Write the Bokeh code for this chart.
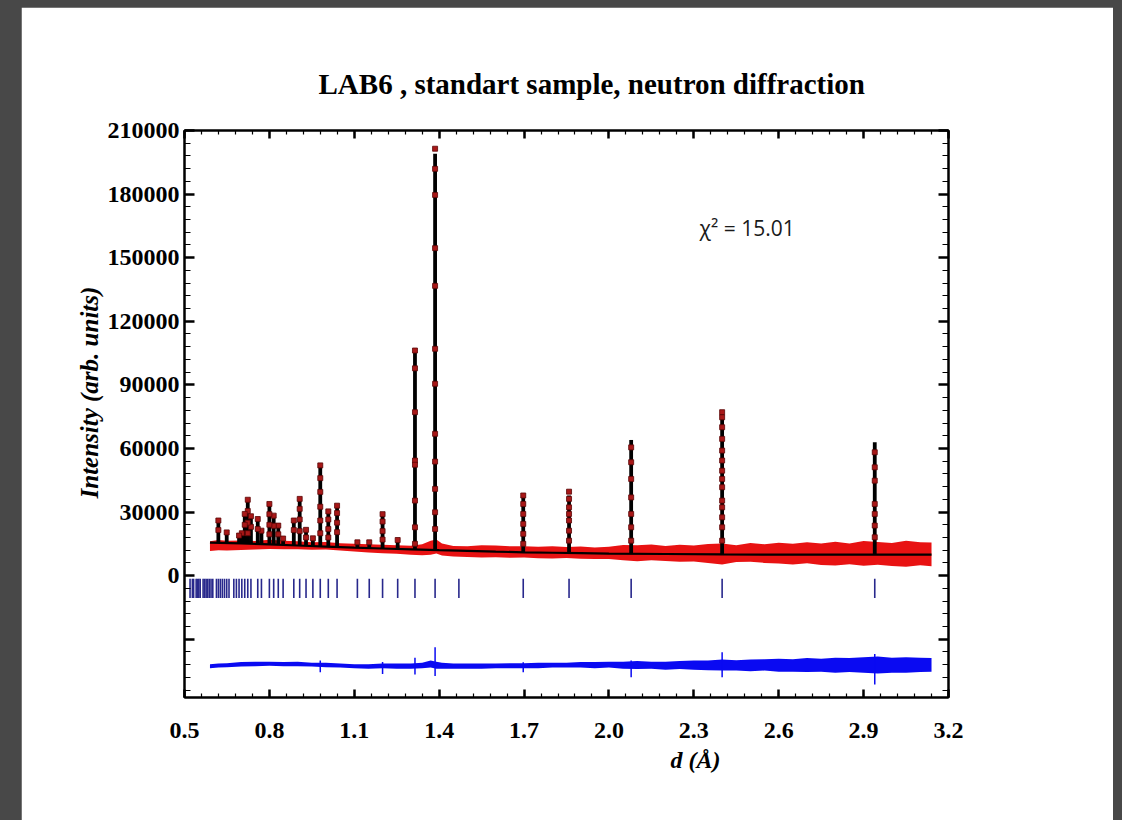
import numpy as np
from bokeh.plotting import figure
from bokeh.models import Range1d, LinearAxis, FixedTicker, Label, Title
from bokeh.layouts import column
from bokeh.embed import file_html
from bokeh.resources import INLINE

# ---------------- texts ----------------
title_text = "LAB6 , standart sample, neutron diffraction"
x_label = "d (Å)"
y_label = "Intensity (arb. units)"
chi_text = "χ² = 15.01"

# ---------------- ticks ----------------
x_ticks = [0.5, 0.8, 1.1, 1.4, 1.7, 2.0, 2.3, 2.6, 2.9, 3.2]
x_tick_labels = ["0.5", "0.8", "1.1", "1.4", "1.7", "2.0", "2.3", "2.6", "2.9", "3.2"]
y_ticks = [-30000, 0, 30000, 60000, 90000, 120000, 150000, 180000, 210000]
y_tick_labels = ["", "0", "30000", "60000", "90000", "120000", "150000", "180000", "210000"]

# ---------------- calculated background (black line) ----------------
bg_d = [0.59, 0.70, 0.80, 0.90, 1.00, 1.10, 1.20, 1.30, 1.40, 1.50, 1.60, 1.70,
        1.80, 1.90, 2.00, 2.20, 2.40, 2.60, 2.80, 3.00, 3.14]
bg_calc = [15600, 15200, 14700, 14200, 13700, 13200, 12800, 12400, 12000, 11700, 11300, 11000,
           10800, 10600, 10400, 10200, 10000, 9900, 9900, 9900, 9900]

# ---------------- observed data envelope (red band) ----------------
obs_d = [0.59, 0.62, 0.65, 0.70, 0.75, 0.80, 0.85, 0.90, 0.95, 1.00, 1.05, 1.10, 1.15, 1.20,
         1.25, 1.30, 1.34, 1.37, 1.39, 1.41, 1.45, 1.50, 1.55, 1.60, 1.65, 1.70, 1.75, 1.80,
         1.85, 1.90, 1.95, 2.00, 2.05, 2.10, 2.15, 2.20, 2.25, 2.30, 2.35, 2.40, 2.45, 2.50,
         2.55, 2.60, 2.65, 2.70, 2.75, 2.80, 2.85, 2.90, 2.95, 3.00, 3.05, 3.10, 3.14]
obs_hi = [16200, 16800, 16400, 16600, 16300, 16900, 16500, 16200, 15800, 15900, 15300, 15000,
          14800, 14600, 14300, 14100, 14800, 16500, 17000, 15200, 14000, 13900, 14300, 14200,
          13800, 13900, 13600, 13800, 13500, 13700, 13300, 13600, 14500, 14300, 14700, 14000,
          14600, 14200, 14900, 15200, 14300, 15400, 14800, 15500, 15000, 15800, 15100, 16000,
          15200, 16300, 15900, 15400, 16400, 15800, 15600]
obs_lo = [11600, 12000, 11800, 12100, 12300, 12600, 12400, 12500, 12200, 12300, 11900, 11400,
          10900, 10600, 10300, 9800, 9600, 9900, 10400, 9500, 9000, 8800, 8500, 8700,
          8400, 8600, 8200, 8100, 8300, 8000, 7900, 7800, 7300, 6800, 7200, 6900,
          6500, 6700, 6000, 5300, 6400, 6600, 6000, 5700, 5200, 5800, 5000, 4800,
          5400, 4700, 5100, 4500, 4200, 4900, 4400]

# ---------------- Bragg peaks: calculated heights and observed points ----------------
peak_d = [2.9394, 2.4000, 2.0785, 1.8590, 1.6971, 1.3856, 1.3145, 1.2534, 1.2000, 1.1529,
          1.1110, 1.0392, 1.0082, 0.9798, 0.9537, 0.9295, 0.9071, 0.8863, 0.8485, 0.8314,
          0.8152, 0.8000, 0.7719, 0.7589, 0.7348, 0.7236, 0.7129, 0.7026, 0.6928, 0.6492, 0.6197]
peak_calc = [62900, 77900, 64000, 37800, 38500, 199000, 106200, 16800, 29400, 15500,
             15500, 33000, 30300, 52400, 17600, 21600, 36200, 26000, 17500, 23600,
             28300, 33800, 21200, 26700, 28000, 35800, 29100, 20000, 18900, 20400, 26000]
peak_obs = [
    [58200, 51100, 44800, 33800, 29100, 23600, 18100],
    [77100, 74700, 70000, 64500, 59000, 54300, 49500, 45600, 41700, 35400, 32200, 27500, 22800, 16500],
    [60500, 53500, 45600, 36900, 29100, 22800, 16500],
    [39600, 36200, 32200, 29100, 26000, 21200, 16500],
    [37800, 33800, 29100, 24400, 19700, 15000],
    [201400, 191900, 179600, 154500, 136700, 107000, 90500, 66900, 53800, 40900, 29900, 22000],
    [106200, 97800, 77100, 54300, 52300, 35400, 22800, 15000],
    [16800],
    [29000, 25500, 21000, 17000],
    [15700],
    [15700],
    [33000, 29500, 25000, 20500],
    [30300, 26500, 22000, 18000],
    [52000, 46000, 39500, 32500, 26000, 20000],
    [17600],
    [21600, 18000],
    [36200, 31500, 26500, 21000],
    [26000, 21500],
    [17500],
    [23600, 19500],
    [28300, 23500],
    [33800, 29000, 24000, 19500],
    [21200],
    [26700, 22000],
    [28000, 23000],
    [35800, 30500, 25000, 20000],
    [29100, 24000],
    [20000],
    [18900],
    [20400],
    [26000, 21500],
]

# ---------------- Bragg reflection positions (tick marks) ----------------
bragg_d = [2.9394, 2.4000, 2.0785, 1.8590, 1.6971, 1.4697, 1.3856, 1.3145, 1.2534, 1.2000,
           1.1529, 1.1110, 1.0392, 1.0082, 0.9798, 0.9537, 0.9295, 0.9071, 0.8863, 0.8485,
           0.8314, 0.8152, 0.8000, 0.7719, 0.7589, 0.7348, 0.7236, 0.7129, 0.7026, 0.6928,
           0.6834, 0.6743, 0.6573, 0.6492, 0.6414, 0.6339, 0.6267, 0.6197, 0.6129, 0.6000,
           0.5938, 0.5879, 0.5821, 0.5765, 0.5710, 0.5657, 0.5555, 0.5506, 0.5458, 0.5412,
           0.5322, 0.5279, 0.5196]

# ---------------- difference curve envelope (blue) ----------------
diff_d = obs_d
diff_hi = [-41800, -41500, -41300, -40800, -40600, -40600, -40800, -40600, -41100, -41100,
           -41500, -41800, -41800, -41500, -41500, -41500, -41100, -40100, -40600, -41100,
           -41500, -41500, -41500, -41500, -41300, -41300, -41100, -41100, -41100, -40800,
           -40800, -40600, -40600, -40300, -40600, -40600, -40300, -40100, -40100, -39600,
           -39900, -39600, -39400, -39200, -39400, -38900, -39200, -38700, -38900, -38500,
           -38200, -38700, -38500, -38700, -38900]
diff_lo = [-43700, -43400, -43200, -42900, -42700, -42500, -42700, -42700, -42900, -43200,
           -43400, -43700, -43900, -43700, -43900, -43900, -43700, -43400, -43900, -43900,
           -43900, -43900, -43900, -43700, -43700, -43700, -43700, -43400, -43400, -43400,
           -43700, -43400, -43900, -44100, -43900, -44400, -44100, -44400, -44600, -44800,
           -44800, -45100, -44800, -45300, -45300, -45500, -45300, -45800, -45500, -45800,
           -46200, -45800, -45800, -45500, -45300]
spike_d = [0.9798, 1.2000, 1.3145, 1.3856, 1.6971, 2.0785, 2.4000, 2.9394]
spike_hi = [-40100, -40800, -38700, -33800, -40900, -40100, -36200, -37000]
spike_lo = [-45600, -46400, -46700, -47400, -45600, -48000, -48000, -51400]

# ---------------- styling ----------------
SERIF = "Liberation Serif"
RED = "#e81212"
BLUE = "#0a0af2"
NAVY = "#28288c"

p = figure(width=1092, height=813, x_range=Range1d(0.5, 3.2), y_range=Range1d(-57500, 210000),
           output_backend="svg", toolbar_location=None, x_axis_type=None, y_axis_type=None,
           min_border_left=163, min_border_right=165, min_border_top=123, min_border_bottom=123,
           background_fill_color="white", border_fill_color="white")
p.outline_line_color = "black"
p.outline_line_width = 2
p.margin = (7, 9, 0, 21)

p.title.text = title_text
p.title.text_font = SERIF
p.title.text_font_style = "bold"
p.title.text_font_size = "29px"
p.title.text_color = "black"
p.title.align = "left"
p.title.offset = 134
p.title.standoff = 61

x_minor = [round(0.5 + 0.06 * i, 3) for i in range(46)]
y_minor = [-54000 + 6000 * i for i in range(45)]


def style_axis(ax, is_x):
    ax.axis_line_color = "black"
    ax.axis_line_width = 2
    ax.major_tick_out = 0
    ax.minor_tick_out = 0
    ax.major_tick_in = 8 if is_x else 10
    ax.minor_tick_in = 4 if is_x else 6
    ax.major_tick_line_width = 2.5
    ax.minor_tick_line_width = 1.2
    ax.major_tick_line_color = "black"
    ax.minor_tick_line_color = "black"
    ax.major_label_text_font = SERIF
    ax.major_label_text_font_style = "bold"
    ax.major_label_text_font_size = "24px"
    ax.major_label_text_color = "black"


# bottom axis
xb = LinearAxis(ticker=FixedTicker(ticks=x_ticks, minor_ticks=x_minor),
                major_label_overrides={t: s for t, s in zip(x_ticks, x_tick_labels)})
style_axis(xb, True)
xb.major_label_standoff = 25
p.add_layout(xb, "below")

# top axis (ticks only)
xt = LinearAxis(ticker=FixedTicker(ticks=x_ticks, minor_ticks=x_minor),
                major_label_overrides={t: "" for t in x_ticks})
style_axis(xt, True)
xt.major_label_text_font_size = "1px"
xt.major_label_standoff = 0
p.add_layout(xt, "above")

# left axis
yl = LinearAxis(ticker=FixedTicker(ticks=y_ticks, minor_ticks=y_minor),
                major_label_overrides={t: s for t, s in zip(y_ticks, y_tick_labels)})
style_axis(yl, False)
yl.major_label_standoff = 5
p.add_layout(yl, "left")

# right axis (ticks only)
yr = LinearAxis(ticker=FixedTicker(ticks=y_ticks, minor_ticks=y_minor),
                major_label_overrides={t: "" for t in y_ticks})
style_axis(yr, False)
yr.major_label_text_font_size = "1px"
yr.major_label_standoff = 0
p.add_layout(yr, "right")

# axis titles placed as in the original (off-centre)
p.add_layout(Title(text=y_label, align="left", offset=199, standoff=3, text_font=SERIF,
                   text_font_style="bold italic", text_font_size="25px", text_color="black"), "left")
p.add_layout(Title(text=x_label, align="left", offset=486, standoff=8, text_font=SERIF,
                   text_font_style="bold italic", text_font_size="24px", text_color="black"), "below")

# observed band
p.varea(x=obs_d, y1=obs_lo, y2=obs_hi, fill_color=RED, fill_alpha=1.0)

# calculated profile: background + peaks
p.line(bg_d, bg_calc, line_color="black", line_width=2.2)
peak_base = np.interp(peak_d, bg_d, bg_calc)
p.segment(x0=peak_d, y0=peak_base, x1=peak_d, y1=peak_calc, line_color="black", line_width=3.8)

# observed points along peaks
dot_d = [d for d, obs in zip(peak_d, peak_obs) for _ in obs]
dot_i = [v for obs in peak_obs for v in obs]
p.scatter(dot_d, dot_i, marker="square", size=5, fill_color="#a81818", line_color="#5a0606",
          line_width=0.8)

# Bragg reflection ticks
p.segment(x0=bragg_d, y0=[-1500] * len(bragg_d), x1=bragg_d, y1=[-10500] * len(bragg_d),
          line_color=NAVY, line_width=1.6)

# difference curve
p.varea(x=diff_d, y1=diff_lo, y2=diff_hi, fill_color=BLUE, fill_alpha=1.0)
p.segment(x0=spike_d, y0=spike_lo, x1=spike_d, y1=spike_hi, line_color=BLUE, line_width=1.5)

# chi^2 annotation
p.add_layout(Label(x=2.32, y=164000, text=chi_text, text_font="Open Sans",
                   text_font_size="21px", text_color="#1a1a1a", text_baseline="alphabetic"))

layout = column(p, width=1122, height=820, styles={"background-color": "#484848"})

open("out.html", "w").write(file_html(layout, INLINE))
